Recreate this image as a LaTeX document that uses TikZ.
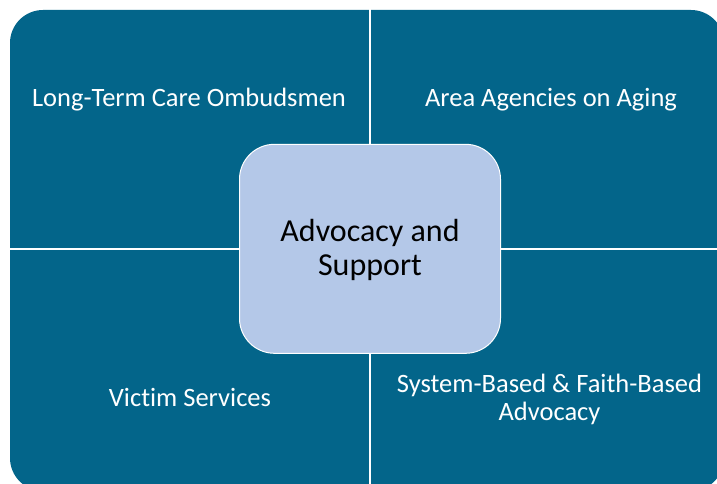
\documentclass[tikz,border=0pt]{standalone}
\usepackage{fontspec}
\setmainfont[Ligatures=NoCommon]{Carlito}
\definecolor{quad}{HTML}{03658A}
\definecolor{core}{HTML}{B4C8E8}
\tikzset{
  quadtext/.style={text=white, font=\fontsize{26.5}{28}\selectfont, inner sep=0pt, anchor=base, align=center},
  coretext/.style={text=black, font=\fontsize{32}{34.7}\selectfont, inner sep=0pt, align=center},
  divider/.style={white, line width=1.7pt},
}
\begin{document}
\begin{tikzpicture}[x=1pt,y=-1pt]
\useasboundingbox (0,0) rectangle (717,484);
% quadrants (one rounded field split by white dividers)
\begin{scope}
  \clip (0,0) rectangle (717,484);
  \fill[quad, rounded corners=33pt] (10,10) rectangle (724,491);
\end{scope}
\coordinate (vt) at (370,0);
\coordinate (vb) at (370,484);
\coordinate (hl) at (0,249);
\coordinate (hr) at (717,249);
\draw[divider] (vt) -- (vb);
\draw[divider] (hl) -- (hr);
% centre
\node[draw=white, line width=1pt, fill=core, rounded corners=35pt, minimum width=261pt, minimum height=209pt, inner sep=0pt] (core) at (370,248.8) {};
\node[coretext, anchor=base] (coreL) at (370,275.7) {Advocacy and\\Support};
% labels
\node[quadtext] (ltc) at (189,106.7) {Long-Term Care Ombudsmen};
\node[quadtext] (aaa) at (551,106.7) {Area Agencies on Aging};
\node[quadtext] (vs) at (190,406.7) {Victim Services};
\node[quadtext] (sfb) at (549.5,420) {System-Based \& Faith-Based\\Advocacy};
\end{tikzpicture}
\end{document}
